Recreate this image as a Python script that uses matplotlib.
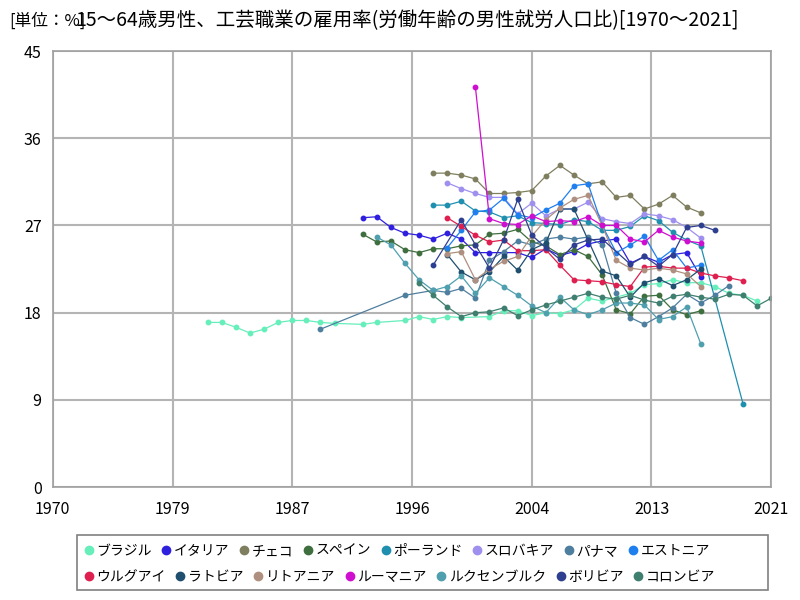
import numpy as np
import matplotlib.pyplot as plt
from matplotlib.patches import Rectangle

plt.rcParams['font.family'] = ['Noto Sans CJK JP', 'DejaVu Sans']

# country names (legend order)
countries = ['ブラジル', 'イタリア', 'チェコ', 'スペイン', 'ポーランド', 'スロバキア', 'パナマ', 'エストニア',
             'ウルグアイ', 'ラトビア', 'リトアニア', 'ルーマニア', 'ルクセンブルク', 'ボリビア', 'コロンビア']
colors = ['#66eebb', '#2f1fdf', '#7f7f5f', '#3f6f3f', '#1f8faf', '#9f8fef', '#4f7f9f', '#1f7fef',
          '#df1f4f', '#1f4f6f', '#af8f7f', '#cf0fcf', '#4f9faf', '#2f3f8f', '#3f7f6f']

brazil_years = [1981, 1982, 1983, 1984, 1985, 1986, 1987, 1988, 1989, 1990, 1992, 1993, 1995, 1996, 1997,
                1998, 1999, 2001, 2002, 2003, 2004, 2005, 2006, 2007, 2008, 2009, 2011, 2012, 2013, 2014,
                2015, 2016, 2017, 2018, 2019, 2020]
brazil = [17.0, 17.0, 16.5, 15.9, 16.3, 17.0, 17.2, 17.2, 17.0, 16.9, 16.8, 17.0, 17.2, 17.6, 17.3,
          17.6, 17.5, 17.6, 18.2, 18.2, 17.7, 18.0, 17.9, 18.3, 19.5, 19.2, 20.0, 20.9, 21.0, 21.4,
          21.1, 21.1, 20.7, 20.0, 19.8, 19.2]

italy_years = list(range(1992, 2017))
italy = [27.8, 27.9, 26.8, 26.2, 26.0, 25.6, 26.2, 25.6, 24.2, 24.2, 24.2, 24.2, 23.7, 24.6, 23.9,
         24.3, 25.1, 25.4, 25.6, 23.1, 23.8, 23.2, 24.0, 24.2, 21.7]

czech_years = list(range(1997, 2017))
czech = [32.4, 32.4, 32.2, 31.8, 30.3, 30.3, 30.4, 30.6, 32.1, 33.2, 32.2, 31.3, 31.5, 29.9, 30.1,
         28.7, 29.2, 30.1, 28.9, 28.3]

spain_years = list(range(1992, 2017))
spain = [26.1, 25.3, 25.4, 24.5, 24.2, 24.6, 24.6, 24.9, 25.0, 26.1, 26.2, 26.6, 25.3, 24.9, 24.0,
         24.5, 23.8, 21.9, 18.3, 17.9, 19.7, 19.8, 18.3, 17.8, 18.2]

poland_years = list(range(1997, 2017)) + [2019]
poland = [29.1, 29.1, 29.5, 28.5, 28.4, 27.8, 28.0, 27.3, 27.2, 27.1, 27.6, 27.4, 26.5, 26.5, 26.9,
          28.0, 27.5, 26.3, 25.5, 24.9, 8.6]

slovakia_years = list(range(1998, 2017))
slovakia = [31.4, 30.8, 30.3, 29.9, 29.9, 28.2, 29.3, 28.0, 28.7, 28.7, 29.4, 27.7, 27.4, 27.2, 28.2,
            28.0, 27.6, 26.8, 25.7]

panama_years = [1989, 1995, 1997, 1998, 1999, 2000, 2001, 2002, 2003, 2004, 2005, 2006, 2007, 2008,
                2009, 2010, 2011, 2012, 2013, 2014, 2015, 2016, 2017, 2018]
panama = [16.3, 19.8, 20.3, 20.1, 20.5, 19.5, 23.4, 24.3, 25.4, 25.0, 25.6, 25.8, 25.6, 25.8,
          25.0, 20.0, 17.5, 16.8, 17.6, 18.5, 19.9, 19.0, 19.8, 20.8]

estonia_years = list(range(1998, 2017))
estonia = [24.7, 26.5, 28.4, 28.6, 29.8, 28.1, 27.8, 28.6, 29.3, 31.1, 31.3, 27.0, 24.2, 25.0, 25.9,
           23.4, 24.5, 22.6, 22.9]

uruguay_years = list(range(1998, 2020))
uruguay = [27.8, 26.9, 26.0, 25.3, 25.5, 24.4, 24.4, 24.5, 22.9, 21.4, 21.3, 21.2, 20.9, 20.7, 22.7,
           22.8, 22.6, 22.6, 22.1, 21.8, 21.6, 21.3]

latvia_years = list(range(1998, 2017))
latvia = [24.0, 22.2, 21.4, 22.2, 23.8, 22.4, 24.5, 25.2, 28.7, 28.7, 25.5, 22.3, 21.8, 19.6, 21.1,
          21.5, 20.8, 21.4, 22.5]

lithuania_years = list(range(1998, 2017))
lithuania = [24.1, 24.3, 21.4, 22.5, 23.3, 23.8, 25.9, 27.6, 28.8, 29.7, 30.1, 27.0, 23.4, 22.6, 22.4,
             22.6, 22.4, 22.0, 20.7]

romania_years = list(range(2000, 2017))
romania = [41.3, 27.7, 27.2, 27.1, 28.0, 27.4, 27.5, 27.4, 27.9, 27.0, 27.0, 25.6, 25.3, 26.5, 25.8,
           25.4, 25.2]

luxembourg_years = list(range(1993, 2017))
luxembourg = [25.8, 25.0, 23.1, 21.4, 20.3, 20.7, 21.8, 20.0, 21.6, 20.7, 19.8, 18.7, 18.0, 19.6, 18.3,
              17.8, 18.3, 19.0, 19.0, 18.8, 17.3, 17.6, 18.6, 14.8]

bolivia_years = [1997, 1999, 2000, 2001, 2002, 2003, 2004, 2005, 2006, 2007, 2008, 2009, 2011, 2012,
                 2013, 2014, 2015, 2016, 2017]
bolivia = [22.9, 27.6, 25.0, 22.6, 25.5, 29.7, 26.0, 24.7, 23.5, 25.0, 25.5, 25.6, 23.0, 23.8,
           22.8, 24.0, 26.8, 27.0, 26.5]

colombia_years = list(range(1996, 2022))
colombia = [21.1, 19.8, 18.6, 17.6, 18.0, 18.1, 18.5, 17.7, 18.3, 18.8, 19.2, 19.6, 20.0, 19.6, 19.4,
            19.8, 19.3, 19.0, 19.7, 19.9, 19.6, 19.4, 19.9, 19.8, 18.7, 19.5]

all_years = [brazil_years, italy_years, czech_years, spain_years, poland_years, slovakia_years,
             panama_years, estonia_years, uruguay_years, latvia_years, lithuania_years, romania_years,
             luxembourg_years, bolivia_years, colombia_years]
all_vals = [brazil, italy, czech, spain, poland, slovakia, panama, estonia, uruguay, latvia, lithuania,
            romania, luxembourg, bolivia, colombia]

xtick_pos = [1970, 1978.5, 1987, 1995.5, 2004, 2012.5, 2021]
xtick_lab = ['1970', '1979', '1987', '1996', '2004', '2013', '2021']
yticks = [0, 9, 18, 27, 36, 45]

fig = plt.figure(figsize=(8, 6), dpi=100)
ax = fig.add_axes([0.066, 0.188, 0.898, 0.727])

handles = []
for name, c, yrs, vals in zip(countries, colors, all_years, all_vals):
    ln, = ax.plot(yrs, vals, color=c, lw=0.9, marker='o', ms=3.2, label=name)
    handles.append(ln)

ax.set_xlim(1970, 2021)
ax.set_ylim(0, 45)
ax.set_xticks(xtick_pos)
ax.set_xticklabels(xtick_lab)
ax.set_yticks(yticks)
ax.tick_params(length=0, labelsize=11.5)
ax.tick_params(axis='x', pad=10)
ax.tick_params(axis='y', pad=8)
ax.grid(True, color='#b4b4b4', lw=1.5)
ax.set_axisbelow(True)
for s in ax.spines.values():
    s.set_color('#a0a0a0')
    s.set_linewidth(1.2)

fig.text(0.012, 0.965, '[単位：%]', fontsize=12, va='center')
fig.text(0.094, 0.965, '15～64歳男性、工芸職業の雇用率(労働年齢の男性就労人口比)[1970～2021]',
         fontsize=14, va='center')

# legend box, rows flowed independently (8 + 7 items)
fig.patches.append(Rectangle((0.096, 0.0167), 0.864, 0.0917, transform=fig.transFigure,
                             fill=False, edgecolor='#808080', lw=1.2))
rows = [list(range(0, 8)), list(range(8, 15))]
row_y = [0.0817, 0.0383]
for idx, yy in zip(rows, row_y):
    leg = fig.legend([handles[i] for i in idx], [countries[i] for i in idx],
                     loc='center left', bbox_to_anchor=(0.097, yy), ncol=len(idx), fontsize=10,
                     handlelength=0.6, handletextpad=0.25, columnspacing=0.75, borderpad=0,
                     frameon=False)
    for h in leg.legend_handles:
        h.set_linestyle('')
        h.set_markersize(6)

fig.savefig('out.png', dpi=100)
